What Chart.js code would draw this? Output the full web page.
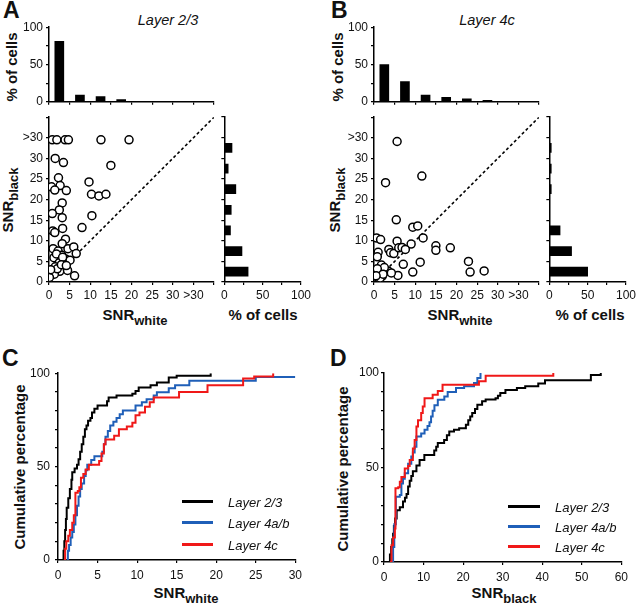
<!DOCTYPE html>
<html lang="en">
<head>
<meta charset="UTF-8">
<title>SNR white vs black by layer</title>
<script src="https://cdn.jsdelivr.net/npm/chart.js@4.4.0/dist/chart.umd.js"></script>
<style>
  * { margin: 0; padding: 0; box-sizing: border-box; }
  body {
    width: 640px; height: 610px; background: #fff; position: relative; overflow: hidden;
    font-family: 'Liberation Sans', Arial, sans-serif; color: #111;
  }
  .box { position: absolute; }
  .txt { position: absolute; white-space: nowrap; line-height: 1; }
  .panel { font-size: 23px; font-weight: bold; }
  .layer { font-size: 14.5px; font-style: italic; transform: translateX(-50%); }
  .ttl { font-size: 15px; font-weight: bold; transform: translateX(-50%); }
  .ttl.v { transform: translate(-50%, -50%) rotate(-90deg); }
  .sub { font-size: 13px; position: relative; top: 5px; }
  .leg-line { position: absolute; height: 3px; }
  .leg-txt { position: absolute; font-size: 13px; font-style: italic; line-height: 1; white-space: nowrap; transform: translateY(-50%); }
</style>
</head>
<body>
  <div class="txt panel" style="left:3px;top:-1px">A</div>
  <div class="txt panel" style="left:331px;top:-1px">B</div>
  <div class="txt panel" style="left:2px;top:347px">C</div>
  <div class="txt panel" style="left:330px;top:347px">D</div>

  <div class="txt layer" style="left:168px;top:13px">Layer 2/3</div>
  <div class="txt layer" style="left:487px;top:13px">Layer 4c</div>

  <div class="txt ttl v" style="left:11px;top:67px">% of cells</div>
  <div class="txt ttl v" style="left:337px;top:67px">% of cells</div>
  <div class="txt ttl v" style="left:7px;top:200px">SNR<span class="sub">black</span></div>
  <div class="txt ttl v" style="left:334px;top:200px">SNR<span class="sub">black</span></div>
  <div class="txt ttl" style="left:135px;top:307px">SNR<span class="sub">white</span></div>
  <div class="txt ttl" style="left:263px;top:307px">% of cells</div>
  <div class="txt ttl" style="left:460px;top:307px">SNR<span class="sub">white</span></div>
  <div class="txt ttl" style="left:590px;top:307px">% of cells</div>

  <div class="txt ttl v" style="left:19px;top:467px">Cumulative percentage</div>
  <div class="txt ttl v" style="left:342px;top:469px">Cumulative percentage</div>
  <div class="txt ttl" style="left:186px;top:585px">SNR<span class="sub">white</span></div>
  <div class="txt ttl" style="left:504px;top:585px">SNR<span class="sub">black</span></div>

  <div class="box" id="histWhiteL23"><canvas></canvas></div>
  <div class="box" id="scatL23"><canvas></canvas></div>
  <div class="box" id="histBlackL23"><canvas></canvas></div>
  <div class="box" id="histWhite4c"><canvas></canvas></div>
  <div class="box" id="scat4c"><canvas></canvas></div>
  <div class="box" id="histBlack4c"><canvas></canvas></div>
  <div class="box" id="cumWhite"><canvas></canvas></div>
  <div class="box" id="cumBlack"><canvas></canvas></div>

  <div class="leg-line" style="left:182px;top:500px;width:31px;background:#000"></div>
  <div class="leg-txt" style="left:228px;top:502px">Layer 2/3</div>
  <div class="leg-line" style="left:182px;top:521px;width:31px;background:#1f5fb8"></div>
  <div class="leg-txt" style="left:228px;top:523px">Layer 4a/b</div>
  <div class="leg-line" style="left:182px;top:543px;width:31px;background:#f01818"></div>
  <div class="leg-txt" style="left:228px;top:545px">Layer 4c</div>

  <div class="leg-line" style="left:508px;top:505px;width:32px;background:#000"></div>
  <div class="leg-txt" style="left:555px;top:507px">Layer 2/3</div>
  <div class="leg-line" style="left:508px;top:525px;width:32px;background:#1f5fb8"></div>
  <div class="leg-txt" style="left:555px;top:527px">Layer 4a/b</div>
  <div class="leg-line" style="left:508px;top:545px;width:32px;background:#f01818"></div>
  <div class="leg-txt" style="left:555px;top:547px">Layer 4c</div>

<script>
// ---- data ----

// marginal histograms: % of cells per 5-unit SNR bin (last bin is ">30")
const binCenters = [2.5, 7.5, 12.5, 17.5, 22.5, 27.5, 32.5];
const pctWhiteL23 = [81, 9, 7, 3];
const pctBlackL23 = [31, 23, 8, 9, 15, 5, 10];
const pctWhite4c = [50, 27, 9, 6, 4, 2];
const pctBlack4c = [50, 29, 14, 0, 2.5, 2.5, 2.5];

// scatter, one cell per entry (">30" cells sit in the 30-40 band)
const whiteL23 = [0.8, 1.9, 3.9, 4.7, 12.6, 19.4, 1.5, 3.5, 15.0, 2.3, 9.7, 0.6, 2.7, 1.4, 4.2, 10.3,
  12.1, 13.8, 3.2, 2.5, 0.8, 3.2, 10.4, 8.0, 3.3, 0.9, 1.4, 4.0, 3.2, 1.0, 4.6, 6.0, 2.2, 6.6, 3.1, 1.2,
  4.0, 5.1, 2.5, 1.5, 3.9, 2.6, 4.5, 0.5, 1.3, 6.2, 0.1, 1.8, 3.3, 2.0, 3.0, 0.4, 4.2];
const blackL23 = [34.5, 34.5, 34.5, 34.5, 34.5, 34.5, 30.0, 29.0, 28.3, 25.3, 24.3, 23.1, 23.4, 22.3, 22.2, 21.3,
  20.9, 21.3, 19.2, 17.5, 16.6, 15.6, 16.1, 13.2, 13.0, 12.4, 12.0, 10.4, 9.3, 8.1, 8.1, 8.5, 7.5, 6.9, 6.5, 5.9,
  5.6, 5.3, 4.7, 3.7, 3.3, 2.6, 2.8, 2.2, 1.9, 1.5, 1.1, 6.8, 6.0, 3.2, 4.2, 3.0, 4.0];
const white4c = [5.6, 11.6, 2.8, 5.4, 9.4, 10.6, 0.6, 1.6, 11.9, 5.6, 9.0, 15.0, 15.0, 18.5, 3.6, 4.0, 4.8, 6.0,
  6.8, 7.6, 1.0, 0.8, 1.8, 7.1, 11.2, 22.9, 0.4, 1.2, 3.4, 2.0, 5.8, 9.4, 23.3, 26.7, 1.5, 2.5, 0.8, 2.2, 4.2, 0.5];
const black4c = [34.1, 25.7, 24.1, 15.1, 13.3, 13.6, 10.7, 10.3, 10.7, 9.9, 9.2, 8.8, 7.7, 8.3, 7.9, 7.1, 6.9, 8.3,
  8.4, 7.9, 7.2, 6.1, 4.1, 4.3, 4.8, 5.0, 2.2, 2.8, 2.7, 1.4, 1.6, 2.4, 2.4, 2.7, 1.0, 3.5, 3.2, 1.9, 2.2, 1.5];
const unityLine = [0, 40];

// cumulative distributions (SNR value where the curve steps, percentage after the step)
const cwL23X = [0.6, 0.7, 0.8, 0.9, 1.0, 1.1, 1.3, 1.5, 1.7, 1.8, 2.1, 2.4, 2.6, 2.8, 3.0, 3.2, 3.4, 3.6, 3.8, 4.1,
  4.3, 4.6, 5.0, 6.2, 6.4, 7.4, 9.4, 9.8, 10.2, 11.7, 12.5, 14.0, 15.0, 19.3];
const cwL23Y = [0, 5, 10, 16, 22, 28, 33, 38, 43, 47, 49, 51, 54, 58, 62, 66, 70, 72, 74.5, 76,
  79, 81, 82.7, 85, 87, 88, 89, 90.5, 92.4, 93.5, 95, 97.7, 98.6, 100];
const cw4abX = [1.1, 1.25, 1.4, 1.6, 1.8, 2.0, 2.2, 2.4, 2.6, 2.8, 3.0, 3.3, 3.5, 3.7, 4.2, 4.6, 5.6, 5.8, 6.0, 6.3,
  6.6, 7.0, 7.4, 7.8, 8.2, 9.8, 10.6, 11.2, 12.1, 12.5, 14.0, 14.8, 16.6, 25.0, 30.0];
const cw4abY = [0, 5, 8, 12, 15, 19, 24, 29, 34, 38, 41, 45, 48, 51, 53.5, 55.5, 58, 62, 66, 69,
  72, 74, 76, 78, 80, 82.7, 84.5, 86, 88, 89.8, 92, 93.5, 96, 98, 98];
const cw4cX = [0.75, 0.9, 1.05, 1.3, 1.5, 1.8, 2.0, 2.2, 2.5, 2.7, 2.9, 3.2, 3.5, 3.9, 5.2, 5.5, 5.8, 6.0, 7.1, 7.7,
  8.7, 9.4, 9.8, 10.3, 11.0, 11.6, 12.1, 15.3, 18.9, 23.4, 24.8, 27.2];
const cw4cY = [0, 6, 10, 13, 16, 20, 24, 36, 37, 39, 44, 46, 48.5, 51, 53, 57, 62, 64.5, 66.5, 70,
  71.5, 73.5, 77.5, 79, 82, 84.5, 87, 90, 93.5, 97.2, 98.3, 100];

const cbL23X = [1.1, 1.5, 1.8, 2.1, 2.3, 2.5, 2.8, 3.2, 4.0, 4.8, 5.3, 5.7, 6.1, 6.5, 6.9, 7.3, 8.2, 9.0, 10.2, 12.7,
  13.2, 13.6, 15.2, 15.9, 16.5, 17.7, 19.0, 20.7, 21.3, 21.8, 22.3, 23.0, 23.6, 24.8, 25.7, 28.2, 28.8, 29.4, 30.7,
  33.6, 35.7, 39.0, 40.7, 52.3, 54.8];
const cbL23Y = [0, 4, 8, 12, 15, 19, 23, 27.4, 29, 32, 34, 36, 40, 43, 45.5, 48, 51, 54, 56.6, 59,
  61, 63, 64.6, 67, 69, 70, 70.8, 72.6, 75, 77, 78.8, 81, 83.2, 85, 86, 86.7, 88, 89.4, 91,
  92, 93, 94.4, 96.2, 99, 100];
const cb4abX = [1.9, 2.3, 2.6, 3.0, 4.0, 4.4, 4.8, 5.25, 6.1, 6.9, 7.3, 7.75, 8.2, 9.4, 10.25, 11.0, 11.5, 11.9, 12.3,
  12.75, 13.6, 15.25, 16.1, 18.2, 20.25, 22.75, 23.6, 24.4];
const cb4abY = [0, 8, 20, 34.5, 35.4, 41.6, 44, 47, 52, 55.8, 58, 61, 66.4, 68, 70, 72, 74, 77, 80,
  83, 85.8, 87.6, 90, 92, 93, 94.7, 97.3, 100];
const cb4cX = [1.5, 1.9, 2.3, 2.75, 2.9, 3.6, 4.0, 4.4, 5.25, 6.1, 6.5, 7.3, 7.75, 8.2, 8.6, 9.4, 9.8, 10.25, 12.3,
  13.6, 14.8, 24.0, 25.7, 42.8];
const cb4cY = [0, 8.8, 13, 17.7, 39, 39.5, 42.5, 45, 49.5, 50.8, 54, 60, 64.6, 71.7, 75, 78.8, 82.3, 86.7, 88.5,
  90.5, 93.8, 95.6, 98.6, 100];

// tick labels
const snrTicks = ['0', '5', '10', '15', '20', '25', '30', '>30', ''];
const pctTicks = ['0', '', '50', '', '100'];
const cumTicks = ['0', '', '', '', '', '50', '', '', '', '', '100'];
const whiteTicks = ['0', '5', '10', '15', '20', '25', '30'];
const blackTicks = ['0', '10', '20', '30', '40', '50', '60'];

// ---- helpers ----
Chart.defaults.font.family = "'Liberation Sans', Arial, sans-serif";
Chart.defaults.font.size = 12;
Chart.defaults.color = '#111';

const LAYER_COLORS = ['#000000', '#1f5fb8', '#f01818'];

function place(id, area, yW, xH, pad) {
  const el = document.getElementById(id);
  const left = area.l - yW - pad.left;
  const top = area.t - pad.top;
  el.style.left = left + 'px';
  el.style.top = top + 'px';
  el.style.width = (area.r + pad.right - left) + 'px';
  el.style.height = (area.b + xH + pad.bottom - top) + 'px';
  return el.querySelector('canvas');
}

function axis(min, max, step, labels, size, labelPad) {
  return {
    type: 'linear',
    min: min,
    max: max,
    offset: false,
    border: { display: true, color: '#000', width: 1.5 },
    grid: { drawOnChartArea: false, drawTicks: true, tickLength: 3, color: '#000', lineWidth: 1.2, offset: false },
    ticks: {
      stepSize: step,
      autoSkip: false,
      maxRotation: 0,
      padding: labelPad,
      callback: (v, i) => (labels ? (labels[i] ?? '') : '')
    },
    afterFit: s => {
      if (s.isHorizontal()) s.height = size; else s.width = size;
    }
  };
}

function baseOptions(pad) {
  return {
    animation: false,
    responsive: true,
    maintainAspectRatio: false,
    layout: { padding: pad },
    plugins: { legend: { display: false }, tooltip: { enabled: false } }
  };
}

function topHist(id, area, values) {
  const pad = { left: 0, right: 6, top: 10, bottom: 0 };
  const canvas = place(id, area, 40, 4, pad);
  new Chart(canvas, {
    type: 'bar',
    data: {
      datasets: [{
        data: values.map((v, i) => ({ x: binCenters[i], y: v })),
        backgroundColor: '#000',
        barThickness: 9
      }]
    },
    options: Object.assign(baseOptions(pad), {
      scales: {
        x: axis(0, 40, 5, null, 4, 0),
        y: axis(0, 100, 25, pctTicks, 40, 3)
      }
    })
  });
}

function sideHist(id, area, values) {
  const pad = { left: 0, right: 11, top: 10, bottom: 0 };
  const canvas = place(id, area, 4, 22, pad);
  new Chart(canvas, {
    type: 'bar',
    data: {
      datasets: [{
        data: values.map((v, i) => ({ x: v, y: binCenters[i] })),
        backgroundColor: '#000',
        barThickness: 9
      }]
    },
    options: Object.assign(baseOptions(pad), {
      indexAxis: 'y',
      scales: {
        x: axis(0, 100, 25, pctTicks, 22, 3),
        y: axis(0, 40, 5, null, 4, 0)
      }
    })
  });
}

function scatter(id, area, xs, ys) {
  const pad = { left: 0, right: 6, top: 10, bottom: 0 };
  const canvas = place(id, area, 40, 22, pad);
  new Chart(canvas, {
    type: 'scatter',
    data: {
      datasets: [
        {
          type: 'line',
          data: unityLine.map(v => ({ x: v, y: v })),
          borderColor: '#000',
          borderWidth: 1.6,
          borderDash: [3, 2.5],
          pointRadius: 0,
          order: 2
        },
        {
          data: xs.map((x, i) => ({ x: x, y: ys[i] })),
          pointRadius: 4,
          borderWidth: 1.5,
          borderColor: '#000',
          backgroundColor: '#fff',
          order: 1
        }
      ]
    },
    options: Object.assign(baseOptions(pad), {
      scales: {
        x: axis(0, 40, 5, snrTicks, 22, 3),
        y: axis(0, 40, 5, snrTicks, 40, 3)
      }
    })
  });
}

function cumulative(id, area, xMax, xStep, xTicks, curves, yLabelPad) {
  const pad = { left: 0, right: 10, top: 10, bottom: 0 };
  const canvas = place(id, area, 40, 24, pad);
  new Chart(canvas, {
    type: 'line',
    data: {
      datasets: curves.map((c, k) => ({
        data: c[0].map((x, i) => ({ x: x, y: c[1][i] })),
        borderColor: LAYER_COLORS[k],
        borderWidth: 2,
        stepped: true,
        pointRadius: 0,
        fill: false,
        order: 3 - k
      }))
    },
    options: Object.assign(baseOptions(pad), {
      scales: {
        x: axis(0, xMax, xStep, xTicks, 24, 5),
        y: axis(0, 100, 10, cumTicks, 40, yLabelPad)
      }
    })
  });
}

// ---- panels ----
topHist('histWhiteL23', { l: 49, r: 214, t: 27, b: 108 }, pctWhiteL23);
scatter('scatL23', { l: 49, r: 214, t: 117, b: 282 }, whiteL23, blackL23);
sideHist('histBlackL23', { l: 222, r: 303, t: 117, b: 282 }, pctBlackL23);

topHist('histWhite4c', { l: 374, r: 539, t: 27, b: 108 }, pctWhite4c);
scatter('scat4c', { l: 374, r: 539, t: 117, b: 282 }, white4c, black4c);
sideHist('histBlack4c', { l: 547, r: 628, t: 117, b: 282 }, pctBlack4c);

cumulative('cumWhite', { l: 58, r: 297, t: 371, b: 560 }, 30, 5, whiteTicks,
  [[cwL23X, cwL23Y], [cw4abX, cw4abY], [cw4cX, cw4cY]], 5);
cumulative('cumBlack', { l: 384, r: 623, t: 373, b: 562 }, 60, 10, blackTicks,
  [[cbL23X, cbL23Y], [cb4abX, cb4abY], [cb4cX, cb4cY]], 2);
</script>
</body>
</html>
